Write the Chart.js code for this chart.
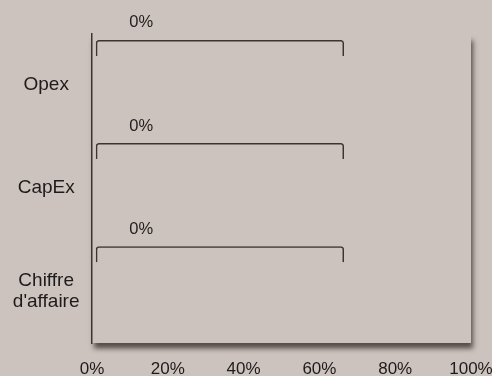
<!DOCTYPE html>
<html>
<head>
<meta charset="utf-8">
<script src="https://cdn.jsdelivr.net/npm/chart.js@4"></script>
<style>
  html, body { margin: 0; padding: 0; background: #ccc3bf; overflow: hidden; }
  #wrap { width: 492px; height: 376px; }
</style>
</head>
<body>
<div id="wrap"><canvas id="chart"></canvas></div>
<script>
const categories = ["Opex", "CapEx", "Chiffre d'affaire"];
const aligned = [0, 0, 0];
const eligible = [0, 0, 0];
const notEligible = [0, 0, 0];
const bracketRange = [[1, 66.5], [1, 66.5], [1, 66.5]];
const bracketText = ["0%", "0%", "0%"];
const bracketTextPos = [13, 13, 13];
const xTicks = [0, 20, 40, 60, 80, 100];

const bg = "#ccc3bf";
const ink = "#3b3431";
const fontFamily = "'Liberation Sans', Arial, sans-serif";

const shadowBox = {
  id: "shadowBox",
  beforeDraw(chart) {
    const ctx = chart.ctx;
    const a = chart.chartArea;
    ctx.save();
    ctx.fillStyle = bg;
    ctx.fillRect(0, 0, chart.width, chart.height);
    ctx.shadowColor = "rgba(55, 48, 44, 0.8)";
    ctx.shadowBlur = 5;
    ctx.shadowOffsetX = 2;
    ctx.shadowOffsetY = 6;
    ctx.fillRect(a.left, a.top, a.right - a.left, a.bottom - a.top);
    ctx.restore();
  },
};

const bracketLabels = {
  id: "bracketLabels",
  afterDatasetsDraw(chart) {
    const ctx = chart.ctx;
    const meta = chart.getDatasetMeta(0);
    const xs = chart.scales.x;
    ctx.save();
    ctx.font = "16.5px " + fontFamily;
    ctx.fillStyle = "#24201f";
    ctx.textAlign = "center";
    ctx.textBaseline = "middle";
    meta.data.forEach((bar, i) => {
      const x = xs.getPixelForValue(bracketTextPos[i]);
      const y = bar.y - bar.height / 2 - 17;
      ctx.fillText(bracketText[i], x, y);
    });
    ctx.restore();
  },
};

new Chart(document.getElementById("chart").getContext("2d"), {
  type: "bar",
  data: {
    labels: categories,
    datasets: [
      {
        label: "Total",
        data: bracketRange,
        backgroundColor: "rgba(0,0,0,0)",
        borderColor: ink,
        borderWidth: 1.5,
        borderSkipped: "bottom",
        borderRadius: 3,
      },
      { label: "Aligné", data: aligned, backgroundColor: "#6a8f4e", borderWidth: 0 },
      { label: "Éligible non aligné", data: eligible, backgroundColor: "#a9b98a", borderWidth: 0 },
      { label: "Non éligible", data: notEligible, backgroundColor: "#8c8480", borderWidth: 0 },
    ],
  },
  options: {
    indexAxis: "y",
    responsive: true,
    maintainAspectRatio: false,
    animation: false,
    categoryPercentage: 0.96,
    barPercentage: 0.647,
    layout: { padding: { top: 33.5, right: 21, bottom: 0, left: 0 } },
    plugins: {
      legend: { display: false },
      tooltip: { enabled: false },
    },
    scales: {
      x: {
        min: 0,
        max: 100,
        afterBuildTicks(axis) {
          axis.ticks = xTicks.map((v) => ({ value: v }));
        },
        afterFit(axis) {
          axis.height = 33;
          axis.paddingLeft = 0;
          axis.paddingRight = 0;
        },
        grid: { display: false, drawTicks: false },
        border: { display: false },
        ticks: {
          padding: 16,
          color: "#1e1b1a",
          font: { family: fontFamily, size: 17 },
          maxRotation: 0,
          callback: (v) => v + "%",
        },
      },
      y: {
        afterFit(axis) {
          axis.width = 92;
          axis.paddingTop = 0;
          axis.paddingBottom = 0;
        },
        grid: { display: false, drawTicks: false },
        border: { display: true, color: ink, width: 1.5 },
        ticks: {
          padding: 12.5,
          crossAlign: "center",
          color: "#1e1b1a",
          font: { family: fontFamily, size: 19, lineHeight: 1.12 },
          callback(value) {
            const label = this.getLabelForValue(value);
            return label.length > 10 ? label.split(" ") : label;
          },
        },
      },
    },
  },
  plugins: [shadowBox, bracketLabels],
});
</script>
</body>
</html>
